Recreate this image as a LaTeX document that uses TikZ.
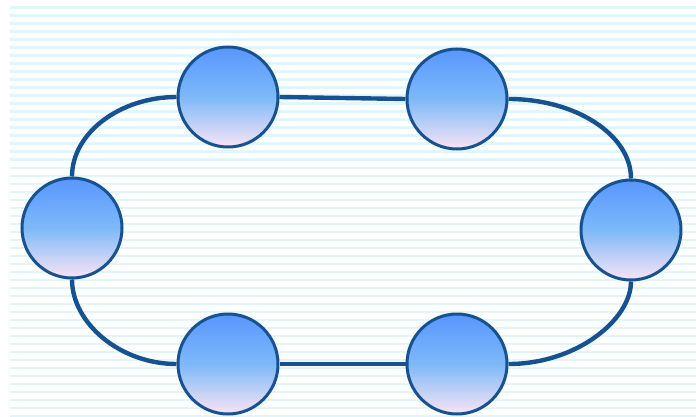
\documentclass[tikz,border=0pt]{standalone}
\usetikzlibrary{backgrounds}
\definecolor{stripe}{RGB}{224,246,250}
\definecolor{ringblue}{RGB}{22,82,145}
\definecolor{topblue}{RGB}{88,150,255}
\definecolor{midblue}{RGB}{125,185,248}
\definecolor{botpink}{RGB}{250,228,245}
\tikzset{
  ball/.style={circle, draw=ringblue, line width=3pt, minimum size=100pt, inner sep=0pt,
    top color=topblue, bottom color=botpink, middle color=midblue},
  ring/.style={draw=ringblue, line width=4.4pt}
}
\begin{document}
\begin{tikzpicture}[x=1pt,y=-1pt]
\useasboundingbox (0,0) rectangle (696,417);
\node[ball] (tl) at (228,97) {};
\node[ball] (tr) at (457,99) {};
\node[ball] (l) at (72,228) {};
\node[ball] (r) at (631,230) {};
\node[ball] (bl) at (228,364) {};
\node[ball] (br) at (457,364) {};
\begin{scope}[on background layer]
\fill[white] (0,0) rectangle (696,417);
\foreach \y in {6.5,14.5,...,417} {
  \fill[stripe] (10,\y) rectangle (696,\y+2.2);
}
\draw[ring] (tl.west) .. controls (120,97) and (72,133) .. (l.north);
\draw[ring] (tl.east) -- (tr.west);
\draw[ring] (tr.east) .. controls (576,99) and (631,135) .. (r.north);
\draw[ring] (r.south) .. controls (631,320) and (576,364) .. (br.east);
\draw[ring] (br.west) -- (bl.east);
\draw[ring] (bl.west) .. controls (120,364) and (72,323) .. (l.south);
\end{scope}
\end{tikzpicture}
\end{document}
